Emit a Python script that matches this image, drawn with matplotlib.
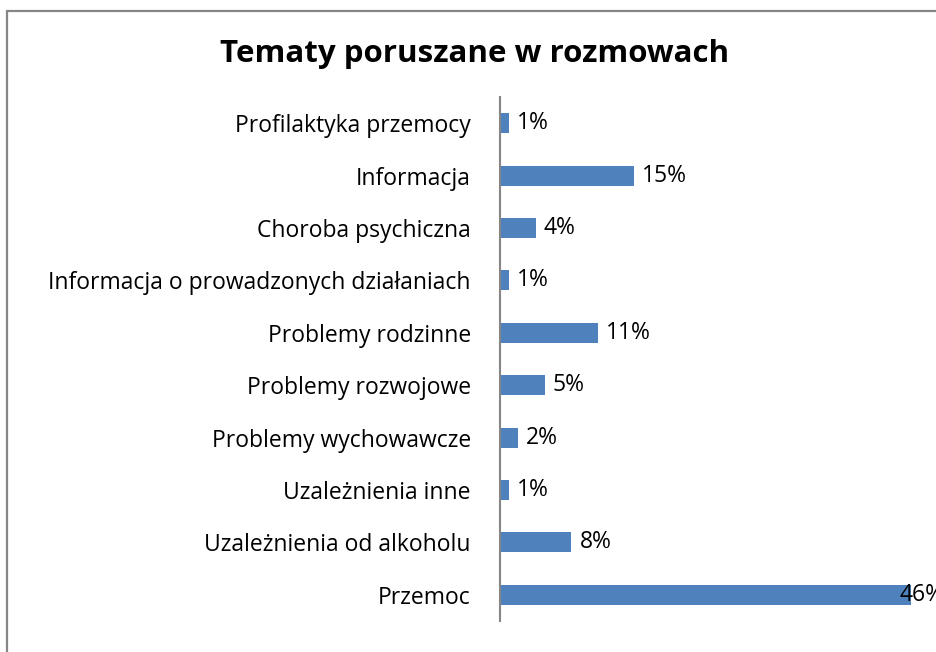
import matplotlib.pyplot as plt
from matplotlib.patches import Rectangle

# categories top to bottom as in the chart
categories = [
    "Profilaktyka przemocy",
    "Informacja",
    "Choroba psychiczna",
    "Informacja o prowadzonych działaniach",
    "Problemy rodzinne",
    "Problemy rozwojowe",
    "Problemy wychowawcze",
    "Uzależnienia inne",
    "Uzależnienia od alkoholu",
    "Przemoc",
]
values = [1, 15, 4, 1, 11, 5, 2, 1, 8, 46]
labels = ["1%", "15%", "4%", "1%", "11%", "5%", "2%", "1%", "8%", "46%"]

plt.rcParams["font.family"] = ["Open Sans", "DejaVu Sans"]

W, H = 936, 652
fig = plt.figure(figsize=(W / 100, H / 100), dpi=100)

# outer chart border (only top and left visible in the crop)
fig.patches.append(Rectangle((7 / W, -0.1), 1.2, (H - 11) / H + 0.1,
                             transform=fig.transFigure, fill=False,
                             edgecolor="#868686", linewidth=1.6))

ax = fig.add_axes([500 / W, (H - 621) / H, (W - 500) / W, (621 - 97) / H])
xmax = 48.8
y = list(range(len(categories)))
ax.barh(y, values, height=0.38, color="#4F81BD")
ax.set_xlim(0, xmax)
ax.set_ylim(len(categories) - 0.5, -0.5)

for yi, v, lab in zip(y, values, labels):
    x = v + 0.9
    if x + 4 > xmax:
        # the last label sits over the end of the bar, as in the original
        x = v - 1.3
    ax.text(x, yi, lab, va="center", ha="left", fontsize=16.5, color="black")

ax.set_yticks(y)
ax.set_yticklabels(categories, fontsize=16.5)
ax.tick_params(axis="y", length=0, pad=21)
ax.set_xticks([])
for s in ["top", "right", "bottom"]:
    ax.spines[s].set_visible(False)
ax.spines["left"].set_color("#868686")
ax.spines["left"].set_linewidth(1.5)

fig.text(475 / W, 1 - 54 / H, "Tematy poruszane w rozmowach",
         ha="center", va="center", fontsize=22.5, fontweight="bold")

fig.savefig("out.png", dpi=100)
